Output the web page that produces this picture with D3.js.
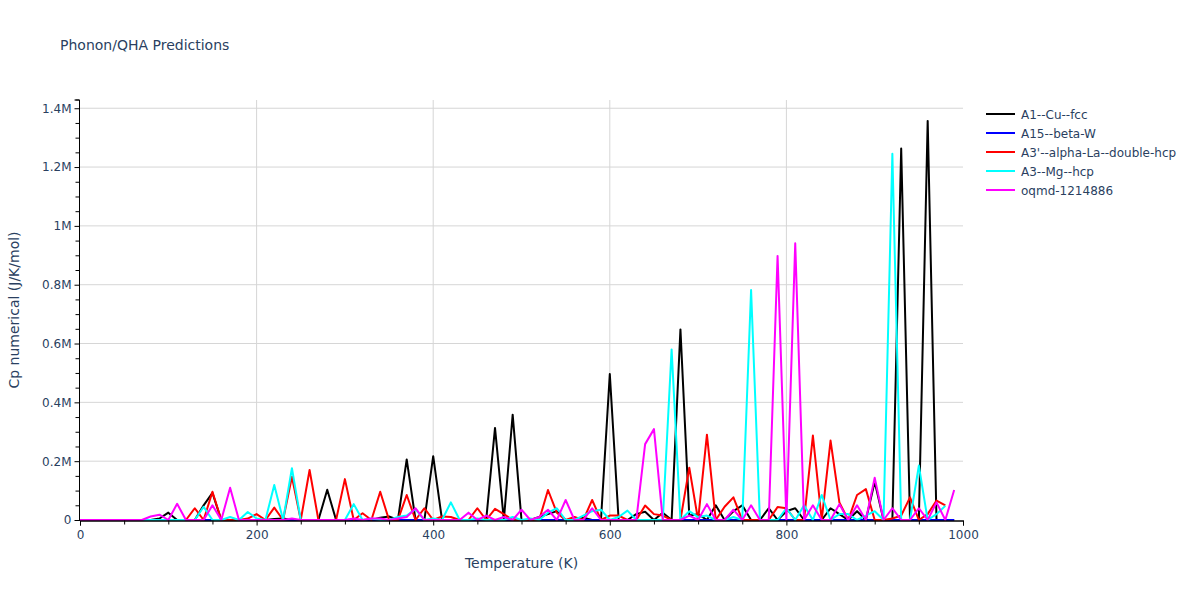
<!DOCTYPE html>
<html>
<head>
<meta charset="utf-8">
<script src="https://cdn.jsdelivr.net/npm/d3@7"></script>
<style>
  body { margin: 0; background: #fff; }
  svg { display: block; font-family: "DejaVu Sans", verdana, sans-serif; }
</style>
</head>
<body>
<svg id="chart" width="1200" height="600"></svg>
<script>
// ---- data ----
const temperatures = d3.range(0, 1000, 10); // 0..990 K
const seriesNames = ["A1--Cu--fcc", "A15--beta-W", "A3'--alpha-La--double-hcp", "A3--Mg--hcp", "oqmd-1214886"];
const seriesColors = ["#000000", "#0000ff", "#ff0000", "#00ffff", "#ff00ff"];

const cuFcc = [
  0,0,0,0,0,0,0,0,0,5000,
  25000,0,0,0,50000,92000,0,0,0,0,
  0,0,3000,5000,0,0,0,0,103000,0,
  0,0,0,0,8000,12000,0,206000,0,0,
  217000,0,0,0,0,0,0,313000,0,358000,
  0,0,10000,20000,30000,0,0,8000,0,0,
  496000,0,0,20000,28000,0,25000,0,648000,15000,
  20000,0,50000,0,30000,50000,0,0,40000,0,
  30000,40000,0,0,0,40000,20000,0,30000,0,
  130000,0,0,1263000,0,0,1357000,0,0,0
];
const betaW = new Array(100).fill(0);
const laDhcp = [
  0,0,0,0,0,0,0,0,0,0,
  0,0,0,40000,0,96000,0,0,0,5000,
  20000,0,42000,0,147000,0,170000,0,0,0,
  139000,0,23000,0,96000,0,0,85000,0,40000,
  0,12000,10000,0,0,40000,0,38000,20000,0,
  0,0,0,102000,25000,0,10000,0,68000,0,
  15000,15000,0,0,49000,20000,15000,0,0,178000,
  0,290000,0,45000,77000,0,0,0,0,44000,
  40000,0,0,287000,0,270000,60000,0,85000,105000,
  0,0,5000,15000,77000,0,20000,66000,50000
];
const mgHcp = [
  0,0,0,0,0,0,0,0,0,0,
  0,0,0,0,45000,0,0,10000,0,27000,
  5000,0,119000,0,176000,0,0,0,0,0,
  0,54000,0,5000,0,0,10000,15000,37000,0,
  5000,0,60000,0,0,5000,0,0,0,10000,
  0,5000,0,25000,40000,0,0,15000,30000,35000,
  0,10000,32000,0,0,0,0,580000,0,30000,
  10000,15000,0,0,10000,0,782000,0,0,0,
  40000,0,50000,0,85000,0,20000,20000,0,15000,
  30000,0,1245000,0,0,185000,0,20000,48000
];
const oqmd = [
  0,0,0,0,0,0,0,0,12000,18000,
  0,55000,0,0,0,50000,0,110000,0,0,
  0,0,0,0,5000,0,0,0,0,0,
  0,5000,0,5000,5000,0,5000,10000,40000,0,
  0,0,0,0,25000,0,15000,0,10000,0,
  35000,0,10000,35000,0,68000,0,0,40000,0,
  0,0,0,0,258000,309000,0,0,0,15000,
  0,54000,0,0,35000,0,50000,0,0,898000,
  0,941000,0,50000,0,0,54000,0,50000,0,
  144000,0,40000,0,0,40000,0,60000,0,102000
];
const seriesValues = [cuFcc, betaW, laDhcp, mgHcp, oqmd];

const xTicks = [0, 200, 400, 600, 800, 1000];
const yTicks = [0, 200000, 400000, 600000, 800000, 1000000, 1200000, 1400000];

// ---- layout ----
(function () {
const svg = d3.select("#chart");
const pL = 80, pR = 963, pT = 100, pB = 520;
const x = d3.scaleLinear().domain([0, 1000]).range([pL, pR]);
const y = d3.scaleLinear().domain([0, 1428000]).range([pB, pT]);
const textColor = "#2a3f5f";
const gridColor = "#d6d6d6";
const fontFam = '"DejaVu Sans", verdana, sans-serif';

// grid
svg.append("g").selectAll("line").data(xTicks.filter(t => t > 0 && t < 1000)).join("line")
  .attr("x1", d => x(d)).attr("x2", d => x(d)).attr("y1", pT).attr("y2", pB)
  .attr("stroke", gridColor).attr("stroke-width", 1);
svg.append("g").selectAll("line").data(yTicks.filter(t => t > 0)).join("line")
  .attr("x1", pL).attr("x2", pR).attr("y1", d => y(d)).attr("y2", d => y(d))
  .attr("stroke", gridColor).attr("stroke-width", 1);

// clip
svg.append("clipPath").attr("id", "clip").append("rect")
  .attr("x", pL).attr("y", pT).attr("width", pR - pL).attr("height", pB - pT + 2);

// lines
const plot = svg.append("g").attr("clip-path", "url(#clip)");
seriesValues.forEach((vals, si) => {
  const pts = vals.map((v, i) => [temperatures[i], v]);
  const line = d3.line().x(d => x(d[0])).y(d => y(d[1]));
  plot.append("path").datum(pts)
    .attr("fill", "none").attr("stroke", seriesColors[si]).attr("stroke-width", 2)
    .attr("stroke-linejoin", "round")
    .attr("d", line);
});

// axes
const fmtY = v => v === 0 ? "0" : (d3.format("~g")(v / 1e6) + "M");
const xAxis = d3.axisBottom(x).tickValues(xTicks).tickSize(5).tickPadding(5).tickFormat(d3.format("d"));
const xMinor = d3.axisBottom(x).tickValues(d3.range(0, 1001, 50).filter(v => v % 200 !== 0)).tickSize(4).tickFormat("");
const yAxis = d3.axisLeft(y).tickValues(yTicks).tickSize(5).tickPadding(3).tickFormat(fmtY);
const yMinor = d3.axisLeft(y).tickValues(d3.range(0, 1425001, 50000).filter(v => v % 200000 !== 0)).tickSize(4).tickFormat("");

function styleAxis(g) {
  g.select(".domain").attr("stroke", "#000").attr("stroke-width", 1);
  g.selectAll(".tick line").attr("stroke", "#000");
  g.selectAll("text").attr("fill", textColor).style("font-size", "12px")
    .style("font-family", fontFam);
}
svg.append("g").attr("transform", `translate(0,${pB + 0.5})`).call(xMinor).call(styleAxis);
svg.append("g").attr("transform", `translate(0,${pB + 0.5})`).call(xAxis).call(styleAxis);
svg.append("g").attr("transform", `translate(${pL - 0.5},0)`).call(yMinor).call(styleAxis)
  .select(".domain").attr("d", `M-4,${pT}H0V${pB + 1}`);
svg.append("g").attr("transform", `translate(${pL - 0.5},0)`).call(yAxis).call(styleAxis)
  .select(".domain").attr("d", `M-5,${pT}H0V${pB + 1}`);

// titles
svg.append("text").attr("x", 60).attr("y", 50).text("Phonon/QHA Predictions")
  .attr("fill", textColor).style("font-size", "14px");
svg.append("text").attr("x", (pL + pR) / 2).attr("y", 568).attr("text-anchor", "middle")
  .text("Temperature (K)").attr("fill", textColor).style("font-size", "14px");
svg.append("text").attr("transform", `translate(19,${(pT + pB) / 2}) rotate(-90)`)
  .attr("text-anchor", "middle").text("Cp numerical (J/K/mol)")
  .attr("fill", textColor).style("font-size", "14px");

// legend
const legend = svg.append("g").attr("transform", "translate(986,114)");
seriesNames.forEach((name, i) => {
  const g = legend.append("g").attr("transform", `translate(0,${i * 19})`);
  g.append("line").attr("x1", 0).attr("x2", 29).attr("y1", 0).attr("y2", 0)
    .attr("stroke", seriesColors[i]).attr("stroke-width", 2);
  g.append("text").attr("x", 35).attr("y", 4.5).text(name)
    .attr("fill", textColor).style("font-size", "12px");
});
})();
</script>
</body>
</html>
